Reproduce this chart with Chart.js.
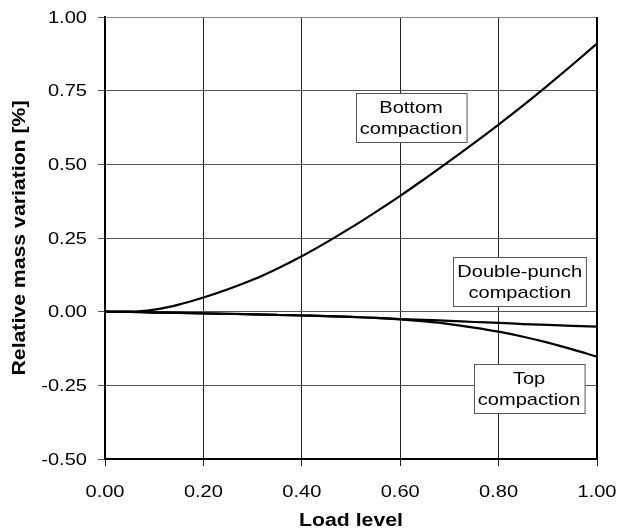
<!DOCTYPE html>
<html>
<head>
<meta charset="utf-8">
<script src="https://cdn.jsdelivr.net/npm/chart.js@4.4.1/dist/chart.umd.min.js"></script>
<style>
  html, body { margin: 0; padding: 0; background: #fff; }
  #wrap { width: 625px; height: 532px; }
</style>
</head>
<body>
<div id="wrap"><canvas id="chart" width="625" height="532"></canvas></div>
<script>
// values
const loadLevel = [0, 0.05, 0.1, 0.15, 0.2, 0.25, 0.3, 0.35, 0.4, 0.45, 0.5, 0.55, 0.6, 0.65, 0.7, 0.75, 0.8, 0.85, 0.9, 0.95, 1.0];
const bottomCompaction = [0, 0, 0.007, 0.024, 0.048, 0.076, 0.108, 0.146, 0.188, 0.235, 0.285, 0.338, 0.393, 0.451, 0.511, 0.572, 0.635, 0.7, 0.768, 0.838, 0.91];
const doublePunch = [0, -0.001, -0.003, -0.004, -0.006, -0.007, -0.009, -0.011, -0.013, -0.015, -0.018, -0.021, -0.025, -0.028, -0.031, -0.035, -0.038, -0.042, -0.045, -0.048, -0.051];
const topCompaction = [0, -0.001, -0.003, -0.004, -0.006, -0.007, -0.009, -0.011, -0.013, -0.015, -0.018, -0.021, -0.026, -0.033, -0.042, -0.054, -0.068, -0.085, -0.105, -0.128, -0.153];

const xTicks = [0, 0.2, 0.4, 0.6, 0.8, 1.0];
const yTicks = [-0.5, -0.25, 0, 0.25, 0.5, 0.75, 1.0];

const xTitle = 'Load level';
const yTitle = 'Relative mass variation [%]';

// curve labels (text + where the box sits, in data units)
const curveLabels = [
    { lines: ['Bottom', 'compaction'], x: 0.622, y: 0.658 },
    { lines: ['Double-punch', 'compaction'], x: 0.843, y: 0.102 },
    { lines: ['Top', 'compaction'], x: 0.862, y: -0.262 }
];

const FONT = '"Liberation Sans", Arial, sans-serif';
const STRETCH = 1.18; // text in the original is a bit wide

function toPoints(ys) {
    return loadLevel.map((x, i) => ({ x: x, y: ys[i] }));
}

function curve(label, ys) {
    return {
        label: label,
        data: toPoints(ys),
        borderColor: '#000',
        borderWidth: 2.2,
        pointRadius: 0,
        tension: 0.4,
        cubicInterpolationMode: 'monotone',
        fill: false
    };
}

// draws text widened along its own direction
function wideText(ctx, text, x, y, rot) {
    ctx.save();
    ctx.translate(x, y);
    if (rot) ctx.rotate(rot);
    ctx.scale(STRETCH, 1);
    ctx.fillText(text, 0, 0);
    ctx.restore();
}

const fmt = v => v.toFixed(2);

// frame on the right/top, tick labels, titles, text boxes
const framePlugin = {
    id: 'frame',
    afterDatasetsDraw(chart) {
        const { ctx, chartArea: a, scales } = chart;
        ctx.save();
        // top edge, thin grey
        ctx.strokeStyle = '#888';
        ctx.lineWidth = 1;
        ctx.beginPath();
        ctx.moveTo(a.left, a.top + 0.5);
        ctx.lineTo(a.right, a.top + 0.5);
        ctx.stroke();
        // right edge, thick black
        ctx.strokeStyle = '#000';
        ctx.lineWidth = 2;
        ctx.beginPath();
        ctx.moveTo(a.right, a.top);
        ctx.lineTo(a.right, a.bottom);
        ctx.stroke();

        ctx.fillStyle = '#000';

        // tick labels
        ctx.font = '17px ' + FONT;
        ctx.textAlign = 'center';
        ctx.textBaseline = 'alphabetic';
        xTicks.forEach(v => {
            wideText(ctx, fmt(v), scales.x.getPixelForValue(v), a.bottom + 38);
        });
        ctx.textAlign = 'right';
        ctx.textBaseline = 'middle';
        yTicks.forEach(v => {
            wideText(ctx, fmt(v), a.left - 18, scales.y.getPixelForValue(v) + 1);
        });

        // axis titles
        ctx.font = 'bold 18px ' + FONT;
        ctx.textAlign = 'center';
        ctx.textBaseline = 'middle';
        wideText(ctx, xTitle, (a.left + a.right) / 2, 521);
        wideText(ctx, yTitle, 20, (a.top + a.bottom) / 2, -Math.PI / 2);

        // boxed curve labels
        ctx.font = '17px ' + FONT;
        const lh = 21;
        curveLabels.forEach(lb => {
            const cx = scales.x.getPixelForValue(lb.x);
            const cy = scales.y.getPixelForValue(lb.y);
            const w = Math.max(...lb.lines.map(t => ctx.measureText(t).width)) * STRETCH + 8;
            const h = lb.lines.length * lh + 7;
            const bx = Math.round(cx - w / 2) + 0.5;
            const by = Math.round(cy - h / 2) + 0.5;
            ctx.fillStyle = '#fff';
            ctx.fillRect(bx, by, w, h);
            ctx.strokeStyle = '#555';
            ctx.lineWidth = 1;
            ctx.strokeRect(bx, by, w, h);
            ctx.fillStyle = '#000';
            lb.lines.forEach((t, i) => {
                wideText(ctx, t, cx, by + 4 + lh / 2 + i * lh);
            });
        });
        ctx.restore();
    }
};

new Chart(document.getElementById('chart'), {
    type: 'line',
    data: {
        datasets: [
            curve('Bottom compaction', bottomCompaction),
            curve('Double-punch compaction', doublePunch),
            curve('Top compaction', topCompaction)
        ]
    },
    options: {
        responsive: false,
        animation: false,
        layout: { padding: { left: 0, right: 28, top: 17, bottom: 5 } },
        plugins: {
            legend: { display: false },
            tooltip: { enabled: false }
        },
        scales: {
            x: {
                type: 'linear',
                min: 0,
                max: 1,
                afterBuildTicks: s => { s.ticks = xTicks.map(v => ({ value: v })); },
                afterFit: s => { s.height = 68; },
                ticks: {
                    color: 'rgba(0,0,0,0)',
                    font: { family: FONT, size: 17 },
                    maxRotation: 0,
                    callback: fmt
                },
                grid: { color: '#222', lineWidth: 1, tickLength: 7 },
                border: { color: '#000', width: 2 }
            },
            y: {
                min: -0.5,
                max: 1,
                afterBuildTicks: s => { s.ticks = yTicks.map(v => ({ value: v })); },
                afterFit: s => { s.width = 105; },
                ticks: {
                    color: 'rgba(0,0,0,0)',
                    font: { family: FONT, size: 17 },
                    callback: fmt
                },
                grid: { color: '#555', lineWidth: 1, tickLength: 7 },
                border: { color: '#000', width: 2 }
            }
        }
    },
    plugins: [framePlugin]
});
</script>
</body>
</html>
